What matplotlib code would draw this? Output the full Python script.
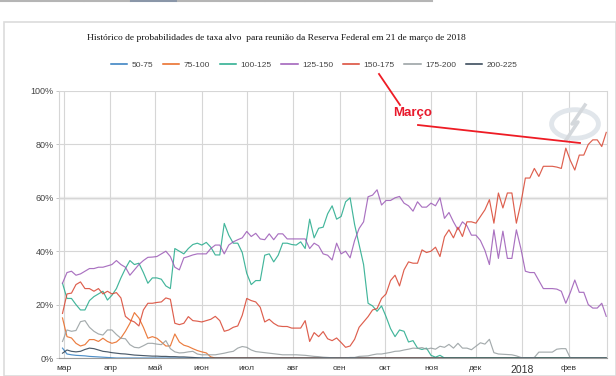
import matplotlib
matplotlib.use("Agg")
import matplotlib.pyplot as plt
from matplotlib.lines import Line2D
from matplotlib.patches import Rectangle, Circle
import pandas as pd

# datas de observação (a cada 3 dias)
dates = pd.date_range("2017-02-28", periods=122, freq="3D")

names = ["50-75", "75-100", "100-125", "125-150", "150-175", "175-200", "200-225"]
colors = ["#2f7bbf", "#e8661e", "#22a98a", "#9b59b6", "#d8432f", "#959d9f", "#2c3e50"]

p_50_75 = [3.7, 1.5, 1.2, 1, 0.9, 0.8, 0.6, 0.5, 0.4, 0.3, 0.2, 0.1] + [0] * 110

p_75_100 = [15, 8, 7.5, 5.5, 4.5, 5, 6.9, 6.9, 6.2, 7.4,
            6.2, 5.5, 6, 7.5, 10, 13, 17, 15, 11.5, 7.4,
            8, 7.4, 6, 4.5, 4.5, 9, 6, 4.8, 4.3, 3.5,
            2.8, 2.3, 1.9, 0.4] + [0] * 88

p_100_125 = [28, 22.3, 22.3, 20, 18, 18, 21.5, 23, 24, 25,
             21.7, 23.5, 26, 30, 33.5, 36.5, 35, 35.5, 32, 28,
             30, 30, 29.5, 27, 26, 41, 40, 39, 41, 42.5,
             43, 42.3, 43.3, 41.5, 38.6, 38.6, 50.4, 46, 43, 43,
             39.5, 31.7, 27.5, 29, 29, 38.5, 39, 36, 38.5, 43,
             43, 42.5, 42.3, 43.5, 41, 52, 45, 48.6, 49, 54,
             57, 52, 53, 58.5, 60, 50, 42.5, 35, 20.5, 19.5,
             17.5, 19.5, 15.5, 11, 8, 10.5, 10, 6, 6.5, 3.7,
             3.2, 3.7, 1, 0.3, 1] + [0] * 37

p_125_150 = [28, 32, 32.5, 31, 31.5, 32.5, 33.5, 33.5, 34, 34,
             34.5, 35, 36.5, 35, 34, 31, 33, 35, 36.5, 37.7,
             37.8, 38, 39, 40, 38, 34, 33, 37.5, 38, 38.6,
             39, 39, 39, 41, 42.3, 42.3, 39, 42.3, 43.5, 44.3,
             45, 47.4, 45.5, 46.7, 44.6, 44.3, 46.5, 44.3, 46.5, 46.5,
             44.6, 44.6, 44.6, 44.6, 44.6, 41, 43, 42, 39, 38.5,
             36.7, 43, 39, 40, 37.5, 44, 48.5, 51, 60.4, 61,
             63, 57.3, 59, 59, 60, 60.5, 58, 57, 55, 58.5,
             56.5, 56.5, 58, 57, 60, 52.3, 54.5, 51, 48, 51,
             49.5, 46, 46, 44, 40.3, 35, 48, 37.3, 47.5, 37.3,
             37.3, 48, 41, 32.5, 32, 32, 29, 26, 26, 26,
             25.8, 25, 20.5, 24.5, 29.2, 24.6, 24.6, 20, 18.7, 18.7,
             20.5, 15.6]

p_150_175 = [16.7, 24, 24.3, 27.5, 28.5, 26, 26, 25, 26, 24,
             25, 24, 24.5, 22.5, 15.6, 14.2, 13.5, 12, 18, 20.5,
             20.5, 20.8, 21, 22.5, 22, 13, 12.5, 13, 15.5, 14,
             13.8, 13.5, 14, 14.5, 15.6, 14, 10, 10.5, 11.5, 12,
             16, 22.3, 21.5, 21, 19, 13.5, 14.5, 13, 12, 11.8,
             11.8, 11.2, 11.2, 11.2, 14, 6.2, 9.5, 8, 9.9, 7.2,
             6.5, 7.5, 5.8, 4, 4.5, 7, 11.5, 13.5, 15.5, 18,
             18.5, 22.3, 24, 29, 31, 27, 33, 36, 35.5, 35.5,
             40.5, 39.5, 40, 41.5, 38, 45.4, 48, 45, 49, 45.5,
             51, 51, 50.5, 53, 55.5, 59.3, 50.5, 61.8, 56.2, 61.8,
             61.8, 50.5, 58, 67.4, 67.4, 71, 68, 71.8, 71.8, 71.8,
             71.5, 71, 78.6, 74, 70.4, 76, 76, 80, 81.7, 81.7,
             79.2, 84.5]

p_175_200 = [6.2, 10.5, 10, 10.3, 13.6, 14, 11.5, 10, 9, 8.6,
             10.5, 10.5, 8.8, 7.4, 7.2, 5, 4, 3.8, 4.6, 5.5,
             5.5, 5.2, 5, 6.5, 3.5, 2.3, 1.9, 2, 2.3, 2.5,
             1.5, 1.2, 1.2, 1.2, 1.2, 1.5, 1.8, 2.2, 2.5, 3.7,
             4.3, 4, 3, 2.4, 2.2, 2, 1.8, 1.6, 1.4, 1.2,
             1.2, 1.2, 1.2, 1.1, 1, 0.8, 0.6, 0.5, 0.3, 0.2,
             0.1, 0, 0, 0, 0.2, 0.2, 0.6, 0.7, 0.8, 1.2,
             1.5, 1.5, 1.8, 2.1, 2.5, 2.6, 3, 3.3, 3.7, 3.6,
             3.9, 3.3, 3.7, 3.3, 4.4, 4, 5.1, 3.7, 5.5, 3.7,
             3.7, 3.1, 4.4, 5.7, 5.2, 7, 2, 1.5, 1.4, 1.3,
             1.2, 0.8, 0.2, 0, 0, 0.2, 2.2, 2.2, 2.2, 2.2,
             3.3, 3.5, 3.5] + [0] * 9

p_200_225 = [1.8, 3, 2.5, 2.3, 2.5, 3.2, 3.7, 3.5, 3, 2.5,
             2.3, 2, 1.8, 1.6, 1.5, 1.3, 1.1, 1, 0.9, 0.8,
             0.7, 0.7, 0.6, 0.6, 0.5, 0.5, 0.4, 0.4, 0.3, 0.2,
             0.1] + [0] * 91

series = [p_50_75, p_75_100, p_100_125, p_125_150, p_150_175, p_175_200, p_200_225]

month_ticks = pd.date_range("2017-03-01", "2018-02-01", freq="MS")
month_labels = ["мар", "апр", "май", "июн", "июл", "авг", "сен", "окт", "ноя", "дек", "2018", "фев"]

W, H = 616, 376


def px(x, y):
    return x / W, 1 - y / H


plt.rcParams['font.family'] = ['Liberation Sans', 'DejaVu Sans']

fig = plt.figure(figsize=(6.16, 3.76), dpi=100)
fig.patch.set_facecolor("white")

# moldura do painel e faixa superior
fig.add_artist(Rectangle(px(4, 376), (W - 4) / W, (376 - 22) / H, transform=fig.transFigure,
                         fill=False, edgecolor="#dcdcdc", lw=1.2))
for x0, x1 in [(0, 40), (42, 83), (85, 129), (131, 176), (178, 219), (221, 264),
               (266, 304), (306, 349), (351, 390), (392, 432)]:
    c = "#8a96a8" if x0 == 131 else "#b5b5b5"
    fig.add_artist(Line2D([px(x0, 1)[0], px(x1, 1)[0]], [px(x0, 1)[1]] * 2,
                          transform=fig.transFigure, color=c, lw=1.5))

l, b = px(59, 358)
r, t = px(607, 91)
ax = fig.add_axes([l, b, r - l, t - b])

ax.axhline(60, color="#eeeeee", lw=2.5, zorder=0.5)
for name, vals, c in zip(names, series, colors):
    ax.plot(dates, vals, color=c, lw=0.85, alpha=0.85, label=name, zorder=2)

ax.set_ylim(0, 100)
ax.set_xlim(pd.Timestamp("2017-02-25 16:00"), pd.Timestamp("2018-02-26 12:00"))
ax.set_yticks([0, 20, 40, 60, 80, 100])
ax.set_yticklabels([f"{v}%" for v in range(0, 101, 20)], fontsize=6.5, color="#444444")
ax.set_xticks(month_ticks)
ax.set_xticklabels(month_labels, fontsize=6, color="#333333")
for lab in ax.get_xticklabels():
    if lab.get_text() == "2018":
        lab.set_fontsize(7.5)
ax.tick_params(axis="x", length=0, pad=5)
ax.tick_params(axis="y", length=2.5, width=0.6, color="#bbbbbb", pad=1.5)
ax.grid(True, color="#d6d6d6", lw=0.8)
ax.set_axisbelow(True)
ax.spines["top"].set_visible(False)
ax.spines["left"].set_color("#d6d6d6")
ax.spines["right"].set_color("#d6d6d6")
ax.spines["bottom"].set_color("#9a9a9a")

# marca d'água
wm = Circle(px(575, 124), 0.038, transform=fig.transFigure, fill=False,
            edgecolor="#e1e6eb", lw=3.5, zorder=1)
fig.add_artist(wm)
zx = [566, 578, 572, 585]
zy = [140, 122, 124, 105]
fig.add_artist(Line2D([px(x, 0)[0] for x in zx], [px(0, y)[1] for y in zy],
                      transform=fig.transFigure, color="#d4d8dc", lw=2.5))

fig.text(*px(276, 38), "Histórico de probabilidades de taxa alvo  para reunião da Reserva Federal em 21 de março de 2018",
         family="Liberation Serif", fontsize=6.8, ha="center", va="center", color="#111111")

handles, labels = ax.get_legend_handles_labels()
leg = fig.legend(handles, labels, loc="center", bbox_to_anchor=px(314, 65), ncol=7, frameon=False,
                 fontsize=6, handlelength=2.0, handletextpad=0.5, columnspacing=1.15,
                 labelcolor="#444444")
for h in leg.get_lines():
    h.set_alpha(1)
    h.set_linewidth(1.1)

# anotação "Março"
fig.text(*px(393, 113), "Março", color="#e8192c", fontsize=9.5, fontweight="bold",
         ha="left", va="center")
fig.add_artist(Line2D([px(379, 0)[0], px(400, 0)[0]], [px(0, 74)[1], px(0, 105)[1]],
                      transform=fig.transFigure, color="#ee1c25", lw=1.3))
fig.add_artist(Line2D([px(418, 0)[0], px(580, 0)[0]], [px(0, 125)[1], px(0, 143)[1]],
                      transform=fig.transFigure, color="#ee1c25", lw=1.3))

fig.savefig("out.png", dpi=100)
